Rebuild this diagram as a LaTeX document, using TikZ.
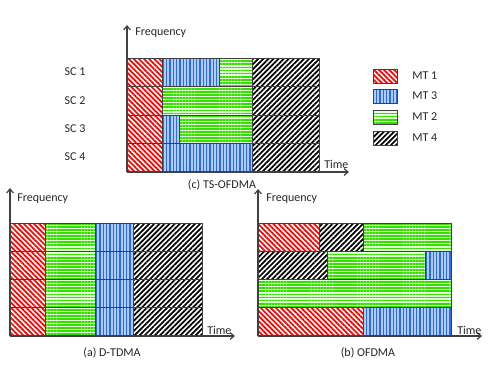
\documentclass[tikz,border=0pt]{standalone}
\usepackage{fontspec}
\setmainfont{Carlito}
\usetikzlibrary{positioning,patterns.meta,arrows.meta}
\definecolor{gridgray}{RGB}{64,64,64}
\definecolor{mtred}{RGB}{255,0,0}
\definecolor{mtblue}{RGB}{45,105,225}
\definecolor{mtbluebg}{RGB}{175,205,250}
\definecolor{mtgreen}{RGB}{55,220,0}
\definecolor{mtgreenbg}{RGB}{225,255,215}

\begin{document}
\begin{tikzpicture}[
    x=0.75pt,y=-0.75pt,
    font=\fontsize{9}{11}\selectfont,text=black!85,
    cell/.style={draw=gridgray,line width=0.6pt},
    mt1/.style={cell,preaction={fill=white},pattern={Lines[angle=-45,distance=2.7pt,line width=1.3pt]},pattern color=mtred},
    mt2/.style={cell,preaction={fill=mtgreenbg},pattern={Lines[angle=0,distance=2.3pt,line width=1.35pt]},pattern color=mtgreen},
    mt3/.style={cell,preaction={fill=mtbluebg},pattern={Lines[angle=90,distance=2.5pt,line width=1.2pt]},pattern color=mtblue},
    mt4/.style={cell,preaction={fill=white},pattern={Lines[angle=45,distance=2.7pt,line width=1.3pt]},pattern color=black},
    legbox/.style={minimum width=18pt,minimum height=10.5pt,inner sep=0pt,line width=1.1pt,draw=black!80},
    axis/.style={-{Straight Barb[length=3pt,width=5pt]},line width=0.9pt,gridgray},
    lbl/.style={inner sep=0pt,anchor=west}
]
    \useasboundingbox (0,0) rectangle (491,368);

    % (c) TS-OFDMA
    \draw[mt1] (127,58) rectangle (162,172);
    \draw[mt3] (162,58) rectangle (219,86.5);
    \draw[mt2] (219,58) rectangle (252,86.5);
    \draw[mt2] (162,86.5) rectangle (252,115);
    \draw[mt3] (162,115) rectangle (179,143.5);
    \draw[mt2] (179,115) rectangle (252,143.5);
    \draw[mt3] (162,143.5) rectangle (252,172);
    \draw[mt4] (252,58) rectangle (319,172);
    \foreach \y in {86.5,115,143.5}
        \draw[cell] (127,\y) -- (319,\y);

    \coordinate (c-o) at (127,172);
    \coordinate (c-top) at (127,25);
    \coordinate (c-end) at (349,172);
    \draw[axis] (c-o) -- (c-top);
    \draw[axis] (c-o) -- (c-end);
    \node[lbl] (c-freq) at (135,33) {Frequency};
    \node[lbl] (c-time) at (324,164) {Time};
    \node (c-cap) at (222,185) {(c) TS-OFDMA};

    \node (sc1) at (75,72) {SC 1};
    \node (sc2) at (75,101) {SC 2};
    \node (sc3) at (75,129) {SC 3};
    \node (sc4) at (75,157) {SC 4};

    % legend
    \node[legbox,mt1] (leg1) at (385,76) {};
    \node[legbox,mt3] (leg3) at (385,96) {};
    \node[legbox,mt2] (leg2) at (385,117) {};
    \node[legbox,mt4] (leg4) at (385,138) {};
    \node[lbl,right=11pt of leg1] {MT 1};
    \node[lbl,right=11pt of leg3] {MT 3};
    \node[lbl,right=11pt of leg2] {MT 2};
    \node[lbl,right=11pt of leg4] {MT 4};

    % (a) D-TDMA
    \draw[mt1] (10,223) rectangle (45,336);
    \draw[mt2] (45,223) rectangle (95,336);
    \draw[mt3] (95,223) rectangle (133,336);
    \draw[mt4] (133,223) rectangle (202,336);
    \foreach \y in {251.25,279.5,307.75}
        \draw[cell] (10,\y) -- (202,\y);

    \coordinate (a-o) at (10,336);
    \coordinate (a-top) at (10,188);
    \coordinate (a-end) at (235,336);
    \draw[axis] (a-o) -- (a-top);
    \draw[axis] (a-o) -- (a-end);
    \node[lbl] (a-freq) at (17,199) {Frequency};
    \node[lbl] (a-time) at (207,330) {Time};
    \node (a-cap) at (112,353) {(a) D-TDMA};

    % (b) OFDMA
    \draw[mt1] (258,223) rectangle (319,251.25);
    \draw[mt4] (319,223) rectangle (363,251.25);
    \draw[mt2] (363,223) rectangle (451,251.25);
    \draw[mt4] (258,251.25) rectangle (327,279.5);
    \draw[mt2] (327,251.25) rectangle (425,279.5);
    \draw[mt3] (425,251.25) rectangle (451,279.5);
    \draw[mt2] (258,279.5) rectangle (451,307.75);
    \draw[mt1] (258,307.75) rectangle (363,336);
    \draw[mt3] (363,307.75) rectangle (451,336);

    \coordinate (b-o) at (258,336);
    \coordinate (b-top) at (258,189);
    \coordinate (b-end) at (482,336);
    \draw[axis] (b-o) -- (b-top);
    \draw[axis] (b-o) -- (b-end);
    \node[lbl] (b-freq) at (266,199) {Frequency};
    \node[lbl] (b-time) at (457,330) {Time};
    \node (b-cap) at (368,353) {(b) OFDMA};
\end{tikzpicture}
\end{document}
